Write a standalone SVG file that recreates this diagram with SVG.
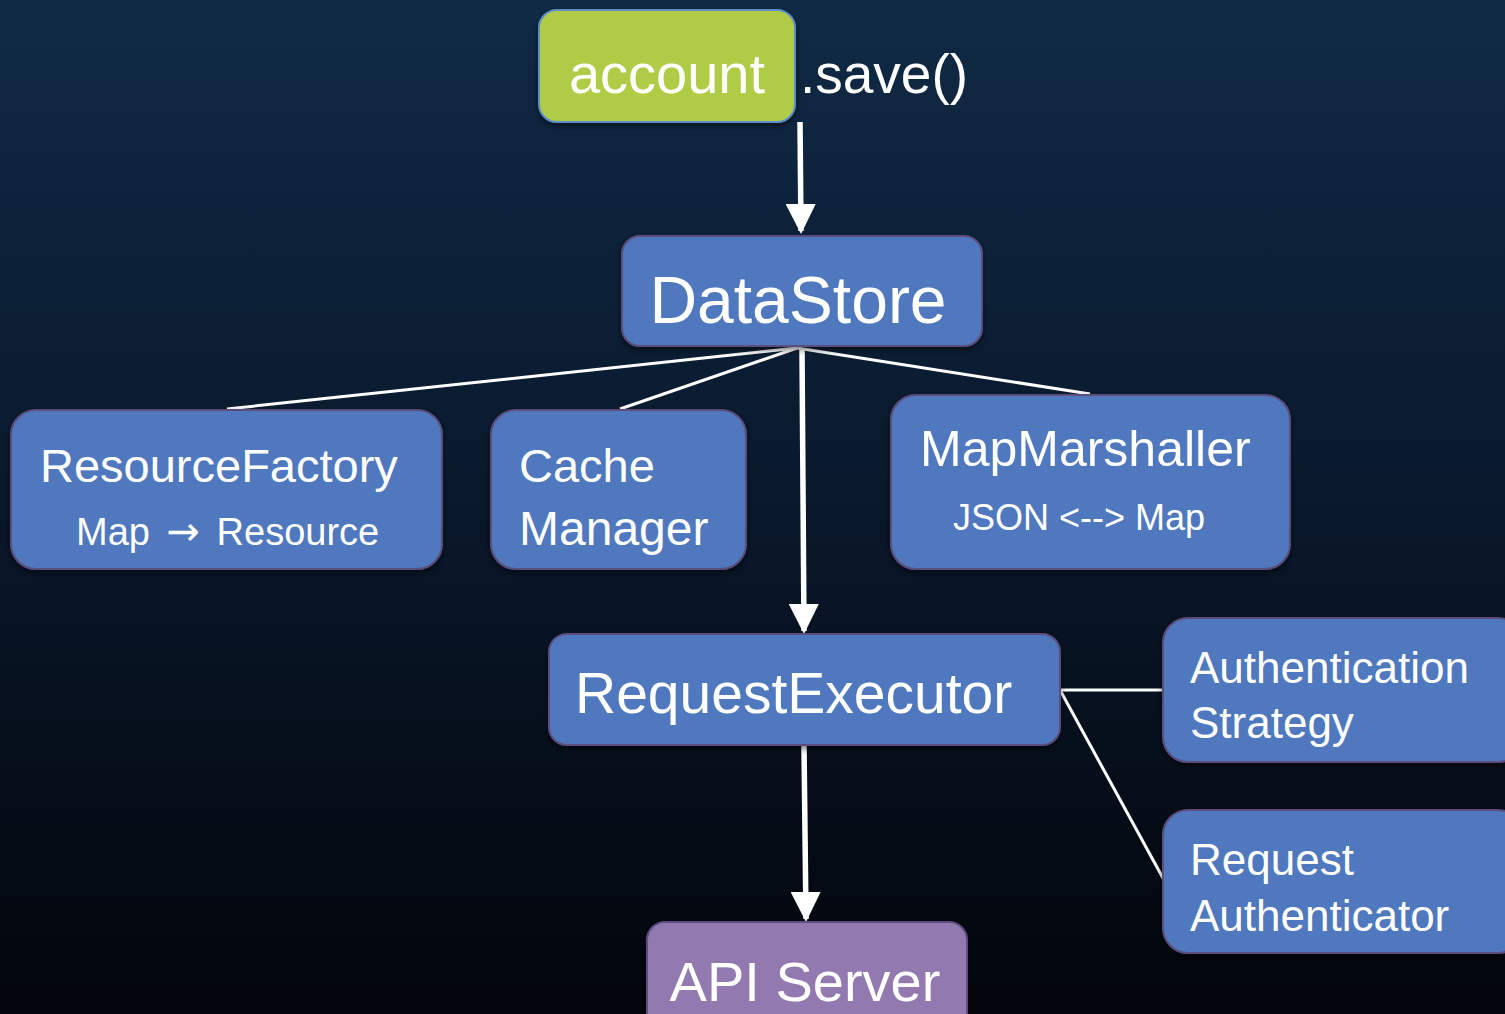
<svg xmlns="http://www.w3.org/2000/svg" width="1505" height="1014" viewBox="0 0 1505 1014">
<defs>
<linearGradient id="bg" x1="0" y1="0" x2="0" y2="1">
<stop offset="0" stop-color="#102a45"/>
<stop offset="0.45" stop-color="#0a1a2e"/>
<stop offset="1" stop-color="#02050b"/>
</linearGradient>
<marker id="ah" viewBox="0 0 10 10" refX="9" refY="5" markerWidth="5.5" markerHeight="5.5" markerUnits="strokeWidth" orient="auto">
<path d="M0,0 L10,5 L0,10 z" fill="#ffffff"/>
</marker>
<filter id="sh" x="-10%" y="-10%" width="120%" height="130%">
<feDropShadow dx="0" dy="3" stdDeviation="3" flood-color="#000" flood-opacity="0.5"/>
</filter>
</defs>
<style>
.box{fill:#4f78be;stroke:#5b4e7e;stroke-width:2;filter:url(#sh)}
.t{font-family:"Liberation Sans",Arial,sans-serif;fill:#ffffff}
.ln{stroke:#ffffff;stroke-width:3;fill:none}
.arr{stroke:#ffffff;stroke-width:5.5;fill:none;marker-end:url(#ah)}
</style>
<rect width="1505" height="1014" fill="url(#bg)"/>
<g id="connectors">
<line class="arr" x1="800" y1="122" x2="801" y2="231"/>
<line class="ln" x1="797" y1="348" x2="227" y2="409"/>
<line class="ln" x1="797" y1="348" x2="620" y2="409"/>
<line class="ln" x1="797" y1="348" x2="1090" y2="394"/>
<line class="arr" x1="802" y1="348" x2="804" y2="631"/>
<line class="ln" x1="1060" y1="690" x2="1164" y2="690"/>
<line class="ln" x1="1060" y1="690" x2="1164" y2="880"/>
<line class="arr" x1="804" y1="746" x2="806" y2="919"/>
</g>
<g id="account">
<rect x="539" y="10" width="256" height="112" rx="18" fill="#b0cc46" stroke="#5f8fc8" stroke-width="2" filter="url(#sh)"/>
<text class="t" x="667" y="93" font-size="56" text-anchor="middle">account</text>
</g>
<text class="t" x="800" y="93" font-size="55">.save()</text>
<g id="datastore">
<rect class="box" x="622" y="236" width="360" height="110" rx="18" stroke="#2a4770"/>
<text class="t" x="798" y="323" font-size="66" text-anchor="middle">DataStore</text>
</g>
<g id="resourcefactory">
<rect class="box" x="11" y="410" width="431" height="159" rx="25"/>
<text class="t" x="40" y="482" font-size="47">ResourceFactory</text>
<text class="t" x="76" y="545" font-size="38" word-spacing="6">Map <tspan font-family="DejaVu Sans" font-size="40">→</tspan> Resource</text>
</g>
<g id="cachemanager">
<rect class="box" x="491" y="410" width="255" height="159" rx="25"/>
<text class="t" x="519" y="482" font-size="47">Cache</text>
<text class="t" x="519" y="545" font-size="48">Manager</text>
</g>
<g id="mapmarshaller">
<rect class="box" x="891" y="395" width="399" height="174" rx="25"/>
<text class="t" x="920" y="466" font-size="50">MapMarshaller</text>
<text class="t" x="953" y="530" font-size="36">JSON &lt;--&gt; Map</text>
</g>
<g id="requestexecutor">
<rect class="box" x="549" y="634" width="511" height="111" rx="18"/>
<text class="t" x="575" y="713" font-size="57">RequestExecutor</text>
</g>
<g id="authstrategy">
<rect class="box" x="1163" y="618" width="360" height="144" rx="25"/>
<text class="t" x="1190" y="683" font-size="44">Authentication</text>
<text class="t" x="1190" y="738" font-size="44">Strategy</text>
</g>
<g id="requestauthenticator">
<rect class="box" x="1163" y="810" width="360" height="143" rx="25"/>
<text class="t" x="1190" y="875" font-size="44">Request</text>
<text class="t" x="1190" y="931" font-size="44">Authenticator</text>
</g>
<g id="apiserver">
<rect x="647" y="922" width="320" height="110" rx="18" fill="#927ab1" stroke="#5b4e7e" stroke-width="2" filter="url(#sh)"/>
<text class="t" x="805" y="1001" font-size="56" text-anchor="middle">API Server</text>
</g>
</svg>
